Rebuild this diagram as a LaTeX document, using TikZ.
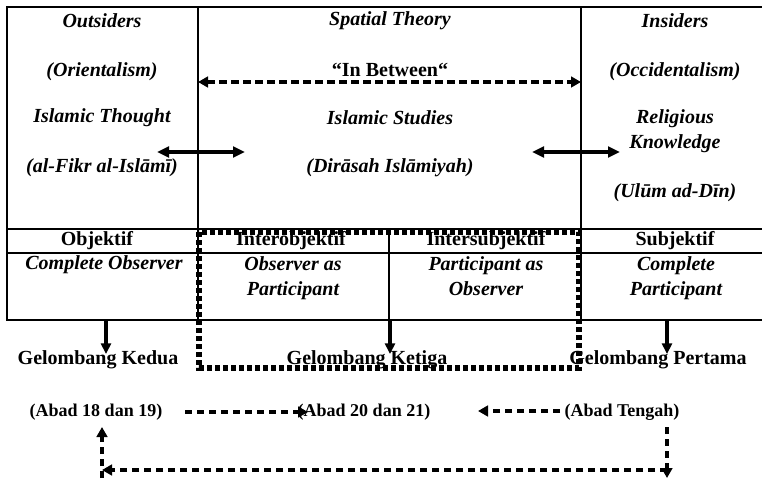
\documentclass[tikz,border=0pt]{standalone}
\usepackage{fontspec}
\setmainfont{Liberation Serif}
\usetikzlibrary{arrows.meta}

\begin{document}
\begin{tikzpicture}[x=0.75pt,y=-0.75pt,
  txt/.style={font=\fontsize{15}{19}\selectfont\bfseries, align=center, inner sep=0pt},
  itx/.style={txt, font=\fontsize{15}{19}\selectfont\bfseries\itshape},
  abad/.style={txt, font=\fontsize{13.5}{16}\selectfont\bfseries},
  frame/.style={line width=1.3pt},
  solidarr/.style={line width=2.4pt, {Triangle[length=9pt,width=8pt]}-{Triangle[length=9pt,width=8pt]}},
  dasharr/.style={line width=2.4pt, dash pattern=on 5.5pt off 3.5pt, -{Triangle[length=7.5pt,width=8pt]}},
  downarr/.style={line width=2.4pt, -{Triangle[length=8pt,width=7.5pt]}}]
\useasboundingbox (0,0) rectangle (762,481);

% table
\draw[frame] (762,7) -- (7,7) -- (7,320) -- (762,320);
\draw[frame] (7,229) -- (762,229);
\draw[frame] (7,253) -- (762,253);
\draw[frame] (198,7) -- (198,320);
\draw[frame] (581,7) -- (581,320);
\draw[frame] (389,229) -- (389,320);

\node[itx] (outs) at (102,21) {Outsiders};
\node[itx] (orient) at (102,72) {(Orientalism)};
\node[itx] (thought) at (102,118) {Islamic Thought};
\node[itx] (fikr) at (102,168) {(al-Fikr al-Islāmī)};
\node[itx] (spatial) at (390,21) {Spatial Theory};
\node[txt] (between) at (390,70) {“In Between“};
\node[itx] (studies) at (390,118) {Islamic Studies};
\node[itx] (dirasah) at (390,168) {(Dirāsah Islāmiyah)};
\node[itx] (ins) at (675,21) {Insiders};
\node[itx] (occid) at (675,72) {(Occidentalism)};
\node[itx] (relig) at (675,131) {Religious\\Knowledge};
\node[itx] (ulum) at (675,193) {(Ulūm ad-Dīn)};

\node[txt] (obj) at (97,241) {Objektif};
\node[txt] (interobj) at (291,241) {Interobjektif};
\node[txt] (intersubj) at (486,241) {Intersubjektif};
\node[txt] (subj) at (675,241) {Subjektif};
\node[itx] (cobs) at (104,265) {Complete Observer};
\node[itx, anchor=north] (obspart) at (293,256) {Observer as\\Participant};
\node[itx, anchor=north] (partobs) at (486,256) {Participant as\\Observer};
\node[itx, anchor=north] (cpart) at (676,256) {Complete\\Participant};

\node[txt] (kedua) at (98,360) {Gelombang Kedua};
\node[txt] (ketiga) at (367,360) {Gelombang Ketiga};
\node[txt] (pertama) at (658,360) {Gelombang Pertama};
\node[abad] (abad1) at (96,412) {(Abad 18 dan 19)};
\node[abad] (abad2) at (364,412) {(Abad 20 dan 21)};
\node[abad] (abad3) at (622,412) {(Abad Tengah)};

% arrows
\coordinate (sl) at (198,82);
\coordinate (sr) at (581,82);
\draw[dasharr, {Triangle[length=7.5pt,width=8pt]}-{Triangle[length=7.5pt,width=8pt]}] (sl) -- (sr);
\draw[solidarr] (157,152) -- (245,152);
\draw[solidarr] (532,152) -- (620,152);

\draw[downarr] (106,320) -- (106,354);
\draw[downarr] (390,320) -- (390,354);
\draw[downarr] (667,320) -- (667,354);

\coordinate (a1) at (185,412);
\coordinate (a3) at (560,411);
\draw[dasharr] (a1) -- (abad2.west -| 308,0);
\draw[dasharr] (a3) -- (478,411);

\coordinate (rt) at (667,427);
\coordinate (rb) at (667,478);
\coordinate (lt) at (102,427);
\coordinate (lb) at (102,478);
\draw[dasharr] (rt) -- (rb);
\draw[dasharr] (rb |- 0,470) -- (lb |- 0,470);
\draw[dasharr] (lb) -- (lt);

% dotted frame round the middle columns
\draw[line width=4.2pt, dash pattern=on 3.6pt off 2.4pt] (199,232) rectangle (579,368);
\end{tikzpicture}
\end{document}
